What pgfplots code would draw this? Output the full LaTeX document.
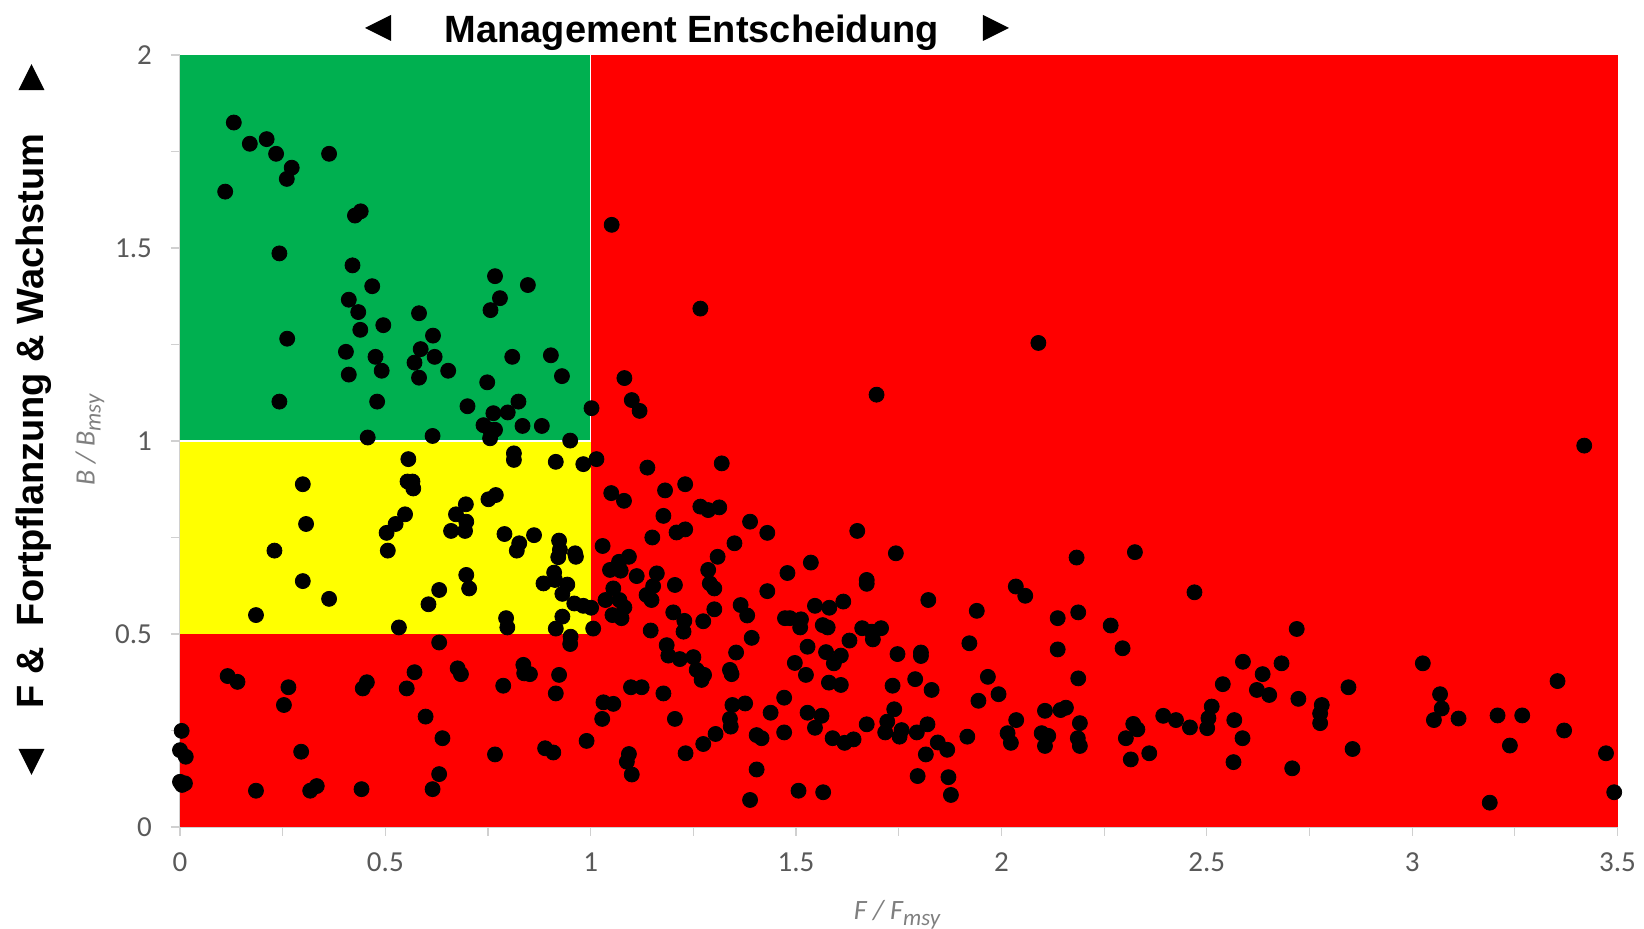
\documentclass[border=0pt]{standalone}
\usepackage{fontspec}
\setmainfont{Carlito}
\newfontfamily\arial{Liberation Sans}
\usepackage{pgfplots}
\pgfplotsset{compat=1.18}
\usetikzlibrary{shapes.geometric}
\definecolor{xlgreen}{HTML}{00B050}
\definecolor{xlyellow}{HTML}{FFFF00}
\definecolor{xlred}{HTML}{FF0000}
\definecolor{ticklab}{HTML}{595959}
\definecolor{axlab}{HTML}{7F7F7F}
\definecolor{tickc}{HTML}{D0D0D0}
\tikzset{tri/.style={isosceles triangle, isosceles triangle stretches, minimum width=13pt, minimum height=13pt, inner sep=0pt, fill=black, draw=none}}
\begin{document}
\begin{tikzpicture}
\path[use as bounding box] (-90pt,-51pt) rectangle (732pt,413.5pt);
\begin{axis}[
  at={(0,0)}, anchor=south west,
  scale only axis, width=718.75pt, height=386pt,
  xmin=0, xmax=3.5, ymin=0, ymax=2,
  axis lines*=left,
  axis line style={draw=tickc, line width=0.6pt},
  clip=false,
  xtick={0,0.5,1,1.5,2,2.5,3,3.5},
  ytick={0,0.5,1,1.5,2},
  minor xtick={0.25,0.75,1.25,1.75,2.25,2.75,3.25},
  minor ytick={0.25,0.75,1.25,1.75},
  tick align=outside,
  major tick length=4.5pt, minor tick length=4.5pt,
  tick style={draw=tickc, line width=0.6pt},
  ticklabel style={font=\fontsize{14.5}{16}\selectfont, text=ticklab},
  xticklabel style={yshift=-5pt},
  yticklabel style={xshift=-6pt},
  /pgf/number format/assume math mode=true,
]
\addplot[draw=none, fill=xlred] coordinates {(0,0) (3.5,0) (3.5,2) (0,2)} -- cycle;
\addplot[draw=none, fill=xlgreen] coordinates {(0,1) (1,1) (1,2) (0,2)} -- cycle;
\addplot[draw=none, fill=xlyellow] coordinates {(0,0.5) (1,0.5) (1,1) (0,1)} -- cycle;
\addplot[white, line width=1pt] coordinates {(0,1) (1,1)};
\addplot[white, line width=0.4pt] coordinates {(1,1) (1,2)};
\addplot[only marks, mark=*, mark size=3.75pt, black, mark options={draw=none, fill=black}] coordinates {
(0.131,1.825)(0.170,1.770)(0.211,1.782)(0.234,1.744)(0.272,1.708)(0.260,1.679)(0.110,1.646)(0.363,1.744)(0.440,1.595)(0.426,1.584)(0.242,1.486)(0.420,1.455)(0.468,1.401)(0.411,1.366)(0.434,1.334)(0.495,1.300)(0.439,1.288)(0.582,1.331)(0.616,1.273)(0.586,1.238)(0.620,1.218)(0.571,1.203)(0.653,1.182)(0.582,1.164)(0.261,1.265)(0.404,1.231)(0.476,1.218)(0.491,1.182)(0.411,1.172)(0.242,1.102)(0.480,1.102)(0.700,1.090)
(1.051,1.560)(1.267,1.343)(0.767,1.427)(0.847,1.404)(0.779,1.370)(0.756,1.339)(0.809,1.218)(0.903,1.222)(0.930,1.168)(0.748,1.152)(0.824,1.102)(0.798,1.074)(0.763,1.072)(1.082,1.163)(1.100,1.106)(1.119,1.078)(1.002,1.085)
(0.457,1.009)(0.615,1.013)(0.556,0.953)(0.554,0.895)(0.566,0.895)(0.568,0.877)(0.299,0.888)(0.307,0.785)(0.230,0.716)(0.299,0.637)(0.363,0.591)(0.185,0.549)(0.548,0.810)(0.525,0.785)(0.503,0.762)(0.506,0.716)(0.696,0.836)(0.672,0.810)(0.697,0.791)(0.660,0.767)(0.694,0.767)(0.697,0.653)(0.704,0.618)(0.631,0.614)(0.605,0.577)(0.533,0.517)(0.631,0.478)(0.116,0.391)(0.140,0.376)(0.264,0.362)(0.253,0.316)(0.455,0.375)(0.445,0.359)(0.571,0.401)(0.552,0.359)(0.676,0.411)(0.684,0.396)(0.598,0.286)(0.639,0.230)(0.631,0.137)(0.615,0.098)(0.004,0.249)(0.000,0.199)(0.014,0.182)(0.000,0.117)(0.005,0.109)(0.012,0.113)(0.295,0.195)(0.185,0.094)(0.317,0.094)(0.333,0.106)(0.442,0.098)
(0.739,1.041)(0.755,1.029)(0.767,1.029)(0.755,1.007)(0.834,1.039)(0.881,1.039)(0.950,1.001)(0.813,0.968)(0.813,0.951)(0.915,0.946)(0.982,0.940)(1.014,0.953)(0.751,0.849)(0.769,0.860)(0.790,0.759)(0.826,0.735)(0.820,0.716)(0.862,0.756)(0.923,0.742)(0.925,0.718)(0.921,0.699)(0.962,0.709)(0.964,0.700)(0.911,0.659)(0.885,0.631)(0.913,0.640)(0.943,0.628)(0.931,0.604)(0.960,0.579)(0.982,0.573)(1.001,0.568)(0.794,0.541)(0.797,0.517)(0.931,0.545)(0.915,0.514)(1.006,0.514)
(1.138,0.931)(1.319,0.942)(1.050,0.865)(1.081,0.845)(1.181,0.872)(1.230,0.888)(1.267,0.830)(1.286,0.821)(1.313,0.828)(1.177,0.806)(1.150,0.750)(1.209,0.763)(1.230,0.771)(1.388,0.791)(1.430,0.762)(1.029,0.728)(1.350,0.735)(1.309,0.700)(1.093,0.700)(1.069,0.687)(1.047,0.666)(1.073,0.664)(1.112,0.650)(1.161,0.657)(1.286,0.666)(1.290,0.631)(1.301,0.618)(1.205,0.627)(1.152,0.624)(1.136,0.601)(1.148,0.588)(1.055,0.618)(1.036,0.588)(1.070,0.588)(1.082,0.569)(1.053,0.549)(1.075,0.541)(1.365,0.575)(1.381,0.548)(1.301,0.564)(1.201,0.556)(1.228,0.534)(1.226,0.506)(1.274,0.533)(1.146,0.509)(1.430,0.611)(1.392,0.490)(1.185,0.471)(1.189,0.444)(1.217,0.435)(1.250,0.440)(1.354,0.452)(1.258,0.407)(1.276,0.394)(1.270,0.381)(1.339,0.407)(1.343,0.396)
(0.951,0.493)(0.950,0.474)(0.836,0.420)(0.838,0.398)(0.852,0.396)(0.787,0.366)(0.923,0.394)(0.915,0.346)(1.098,0.362)(1.124,0.362)(1.177,0.346)(1.031,0.323)(1.055,0.319)(1.028,0.280)(1.205,0.280)(1.345,0.316)(1.376,0.320)(1.438,0.296)(1.339,0.280)(1.341,0.260)(1.304,0.241)(1.274,0.215)(1.404,0.238)(1.416,0.230)(0.990,0.223)(0.889,0.204)(0.909,0.193)(0.767,0.188)(1.093,0.189)(1.088,0.169)(1.100,0.136)(1.231,0.191)(1.404,0.149)(1.388,0.070)
(1.649,0.767)(1.743,0.709)(1.536,0.685)(1.479,0.658)(1.672,0.640)(1.672,0.630)(1.822,0.588)(1.546,0.573)(1.581,0.568)(1.615,0.584)(1.473,0.541)(1.485,0.541)(1.512,0.538)(1.510,0.517)(1.565,0.523)(1.577,0.517)(1.661,0.515)(1.684,0.506)(1.707,0.515)(1.687,0.486)(1.630,0.483)(1.528,0.467)(1.573,0.453)(1.609,0.444)(1.592,0.424)(1.747,0.448)(1.804,0.452)(1.804,0.443)(1.497,0.425)(1.524,0.394)(1.580,0.374)(1.609,0.368)(1.735,0.366)(1.790,0.383)(1.830,0.355)(1.471,0.335)(1.528,0.296)(1.562,0.288)(1.546,0.257)(1.471,0.245)(1.589,0.230)(1.618,0.218)(1.640,0.227)(1.672,0.266)(1.739,0.305)(1.722,0.273)(1.717,0.245)(1.757,0.251)(1.752,0.234)(1.794,0.245)(1.820,0.266)(1.845,0.219)(1.868,0.200)(1.816,0.188)(1.796,0.132)(1.871,0.129)(1.877,0.083)(1.506,0.094)(1.566,0.090)(1.917,0.234)(1.940,0.560)(1.922,0.476)(1.967,0.389)(1.944,0.327)(1.993,0.344)(2.035,0.623)(2.058,0.599)(2.137,0.541)(2.137,0.460)(2.036,0.277)(2.015,0.243)(2.023,0.218)(2.106,0.301)(2.144,0.303)(2.157,0.309)(2.098,0.243)(2.114,0.236)(2.106,0.210)
(2.183,0.698)(2.325,0.712)(2.470,0.608)(2.187,0.556)(2.266,0.522)(2.295,0.463)(2.719,0.513)(2.588,0.428)(2.636,0.396)(2.682,0.424)(2.539,0.370)(2.622,0.355)(2.652,0.342)(2.723,0.332)(2.845,0.362)(2.187,0.385)(2.191,0.269)(2.186,0.230)(2.191,0.210)(2.394,0.288)(2.425,0.277)(2.459,0.258)(2.512,0.312)(2.504,0.282)(2.501,0.256)(2.567,0.277)(2.587,0.230)(2.565,0.168)(2.321,0.267)(2.331,0.253)(2.303,0.230)(2.360,0.191)(2.315,0.175)(2.780,0.316)(2.776,0.294)(2.776,0.269)(2.708,0.152)(2.855,0.202)
(3.419,0.988)(3.026,0.424)(3.068,0.344)(3.072,0.307)(3.053,0.277)(3.113,0.281)(3.208,0.289)(3.268,0.289)(3.238,0.211)(3.354,0.378)(3.370,0.250)(3.472,0.191)(3.492,0.090)(3.189,0.063)
(2.090,1.254)(1.696,1.120)
};
\end{axis}
% title
\node[font=\arial\bfseries\fontsize{19}{22}\selectfont, anchor=base, inner sep=0pt] at (255.9pt,392.2pt) {Management Entscheidung};
\node[tri, shape border rotate=180] at (101.5pt,399.5pt) {};
\node[tri, shape border rotate=0] at (405.5pt,399.5pt) {};
% left label
\node[font=\arial\bfseries\fontsize{19}{22}\selectfont, rotate=90, inner sep=0pt] at (-73.25pt,203pt) {F \&\ \ Fortpflanzung \& Wachstum};
\node[tri, shape border rotate=90] at (-74.25pt,372.5pt) {};
\node[tri, shape border rotate=270] at (-74.25pt,35pt) {};
% axis labels
\node[rotate=90, text=axlab, font=\itshape\fontsize{14}{16}\selectfont, inner sep=0pt] at (-45pt,193.5pt) {B / B\raisebox{-3pt}{\fontsize{11.5}{12}\selectfont msy}};
\node[text=axlab, font=\itshape\fontsize{14}{16}\selectfont, anchor=base, inner sep=0pt] at (358.5pt,-46.5pt) {F / F\raisebox{-3pt}{\fontsize{11.5}{12}\selectfont msy}};
\end{tikzpicture}
\end{document}
